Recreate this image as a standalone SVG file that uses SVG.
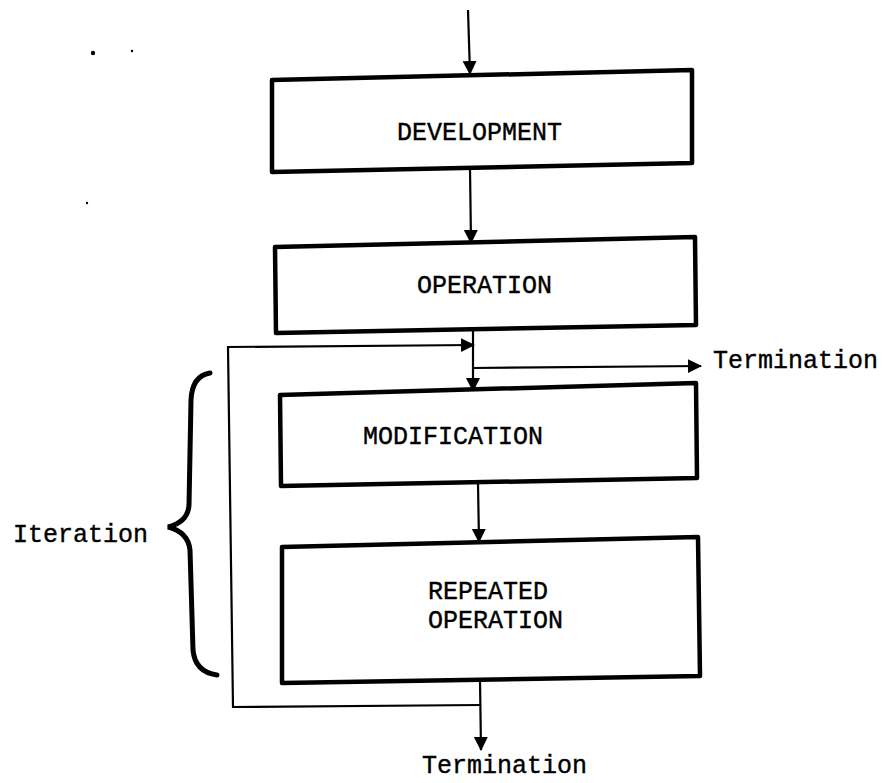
<svg xmlns="http://www.w3.org/2000/svg" width="887" height="783" viewBox="0 0 887 783">
  <style>
    .box { fill: #fff; stroke: #000; stroke-width: 4.5; stroke-linejoin: round; }
    .line { fill: none; stroke: #000; stroke-width: 2.2; }
    .label { font-family: "Liberation Mono", "Courier New", monospace; font-size: 25px; fill: #000; stroke: #000; stroke-width: 0.4; }
    .brace { fill: none; stroke: #000; stroke-width: 5; stroke-linecap: round; }
  </style>
  <defs>
    <marker id="arrow" markerUnits="userSpaceOnUse" markerWidth="16" markerHeight="16" refX="13" refY="7" orient="auto">
      <path d="M0,0 L14,7 L0,14 Z" fill="#000"/>
    </marker>
  </defs>

  <rect width="887" height="783" fill="#fff"/>

  <!-- flow connectors -->
  <g id="connectors">
    <path class="line" d="M468,10 L470,74" marker-end="url(#arrow)"/>
    <path class="line" d="M470,168 L471,243" marker-end="url(#arrow)"/>
    <path class="line" d="M473,330 L473,391" marker-end="url(#arrow)"/>
    <path class="line" d="M481,705 L233,707 L228,347 L474,345" marker-end="url(#arrow)"/>
    <path class="line" d="M473,368 L701,366" marker-end="url(#arrow)"/>
    <path class="line" d="M478,483 L479,542" marker-end="url(#arrow)"/>
    <path class="line" d="M480,680 L481,750" marker-end="url(#arrow)"/>
  </g>

  <g id="development">
    <path class="box" d="M272,80 L692,70 L692,163 L272,172 Z"/>
    <text class="label" x="397" y="140">DEVELOPMENT</text>
  </g>

  <g id="operation">
    <path class="box" d="M275,247 L695,237 L696,325 L276,333 Z"/>
    <text class="label" x="417" y="293">OPERATION</text>
  </g>

  <g id="modification">
    <path class="box" d="M280,395 L696,383 L697,478 L281,486 Z"/>
    <text class="label" x="363" y="444">MODIFICATION</text>
  </g>

  <g id="repeated-operation">
    <path class="box" d="M282,547 L698,537 L700,676 L282,683 Z"/>
    <text class="label" x="428" y="599">REPEATED</text>
    <text class="label" x="428" y="628">OPERATION</text>
  </g>

  <g id="termination-side">
    <text class="label" x="713" y="368">Termination</text>
  </g>

  <g id="termination-bottom">
    <text class="label" x="422" y="773">Termination</text>
  </g>

  <g id="iteration">
    <path class="brace" d="M210,373 Q192,376 191,400 L189,505 Q188,522 168,527 Q188,532 190,550 L193,650 Q195,672 217,675"/>
    <text class="label" x="13" y="542">Iteration</text>
  </g>

  <!-- specks -->
  <g fill="#000">
    <circle cx="93" cy="53" r="2.2"/>
    <circle cx="132" cy="51" r="1.2"/>
    <circle cx="87" cy="203" r="1.2"/>
  </g>
</svg>
